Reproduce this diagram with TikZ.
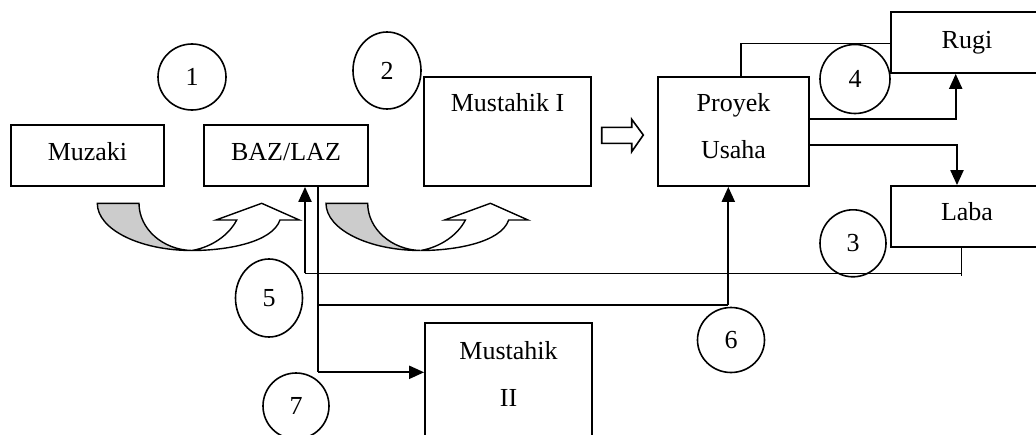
\documentclass[tikz,border=0pt]{standalone}
\usepackage{fontspec}
\setmainfont{Liberation Serif}
\usetikzlibrary{arrows.meta,shapes.geometric}
\definecolor{band}{RGB}{204,204,204}
\begin{document}
\begin{tikzpicture}[x=1pt,y=-1pt,
  box/.style={draw,line width=1.8pt,inner sep=0pt},
  circ/.style={draw,ellipse,line width=1.6pt,inner sep=0pt,font=\fontsize{26}{30}\selectfont},
  lbl/.style={font=\fontsize{26}{30}\selectfont,inner sep=0pt,anchor=base},
  conn/.style={line width=1.5pt},
  arr/.style={line width=2.1pt,-{Triangle[length=15pt,width=13pt]}},
  uarrow/.pic={
    \filldraw[fill=band,line width=1.4pt] (97.3,203.3) .. controls (97.3,229.5) and (140,250.5) .. (192,250.5)
      .. controls (163,250) and (139,229) .. (139,203.3) -- cycle;
    \filldraw[fill=white,line width=1.4pt] (192,250.5) .. controls (225,250.5) and (272,243) .. (280,220)
      -- (299.3,220) -- (261.7,203.3) -- (216,220) -- (236.7,220)
      .. controls (229,235) and (212,247) .. (192,250.5) -- cycle;
  }
]
\useasboundingbox (0,0) rectangle (1036,434);

% boxes
\node[box,minimum width=153pt,minimum height=61pt] (muz) at (87.5,155.5) {};
\node[box,minimum width=164pt,minimum height=61pt] (baz) at (286,155.5) {};
\node[box,minimum width=167pt,minimum height=109pt] (m1) at (507.5,131.5) {};
\node[box,minimum width=151pt,minimum height=109pt] (proyek) at (733.5,131.5) {};
\node[box,minimum width=154.3pt,minimum height=61pt] (rugi) at (967.85,42.5) {};
\node[box,minimum width=154.3pt,minimum height=61pt] (laba) at (967.85,216.5) {};
\node[box,minimum width=167pt,minimum height=122pt] (m2) at (508.5,384) {};

% texts
\node[lbl] (tmuz) at (87.5,160) {Muzaki};
\node[lbl] (tbaz) at (286,160) {BAZ/LAZ};
\node[lbl] (tm1) at (507.5,111.7) {Mustahik I};
\node[lbl] (tpr1) at (733.5,111.7) {Proyek};
\node[lbl] (tpr2) at (733.5,158.3) {Usaha};
\node[lbl] (trugi) at (967,48.3) {Rugi};
\node[lbl] (tlaba) at (967,220.7) {Laba};
\node[lbl] (tm2a) at (508.5,359.3) {Mustahik};
\node[lbl] (tm2b) at (508.5,406.7) {II};

% numbered circles
\node[circ,minimum width=68pt,minimum height=66pt] (c1) at (192,77) {1};
\node[circ,minimum width=68pt,minimum height=77pt] (c2) at (387,70.5) {2};
\node[circ,minimum width=66pt,minimum height=67pt] (c3) at (853,243.3) {3};
\node[circ,minimum width=70pt,minimum height=69pt] (c4) at (855,79) {4};
\node[circ,minimum width=67pt,minimum height=78pt] (c5) at (269,298) {5};
\node[circ,minimum width=67pt,minimum height=65pt] (c6) at (731,340) {6};
\node[circ,minimum width=66pt,minimum height=66pt] (c7) at (296,406) {7};

% curved arrows
\pic (ua1) at (0,0) {uarrow};
\pic (ua2) at (228.7,0) {uarrow};

% block arrow Mustahik I -> Proyek
\draw[line width=1.6pt] (601.7,127.3) -- (631.7,127.3) -- (631.7,119.3) -- (643.3,135)
  -- (631.7,151.7) -- (631.7,143.3) -- (601.7,143.3) -- cycle;

% connectors
\coordinate (q) at (741,43.7);
\draw[conn] (proyek.north -| q) -- (q) -- (rugi.west |- q);
\coordinate (r1) at (955.7,119);
\draw[arr] (proyek.east |- r1) -- (r1) -- (rugi.south -| r1);
\coordinate (r2) at (957,145);
\draw[arr] (proyek.east |- r2) -- (r2) -- (laba.north -| r2);

\coordinate (p5r) at (961.7,276);
\coordinate (p5l) at (305,273.3);
\draw[conn] (laba.south -| p5r) -- (p5r);
\draw[conn] (p5r |- p5l) -- (p5l);
\draw[arr] (p5l) -- (baz.south -| p5l);

\coordinate (p6a) at (318,305);
\coordinate (p6b) at (728.3,305);
\coordinate (p7) at (318,372.3);
\draw[conn] (baz.south -| p7) -- (p7);
\draw[arr] (p7) -- (m2.west |- p7);
\draw[conn] (p6a) -- (p6b);
\draw[arr] (p6b) -- (proyek.south -| p6b);
\end{tikzpicture}
\end{document}
